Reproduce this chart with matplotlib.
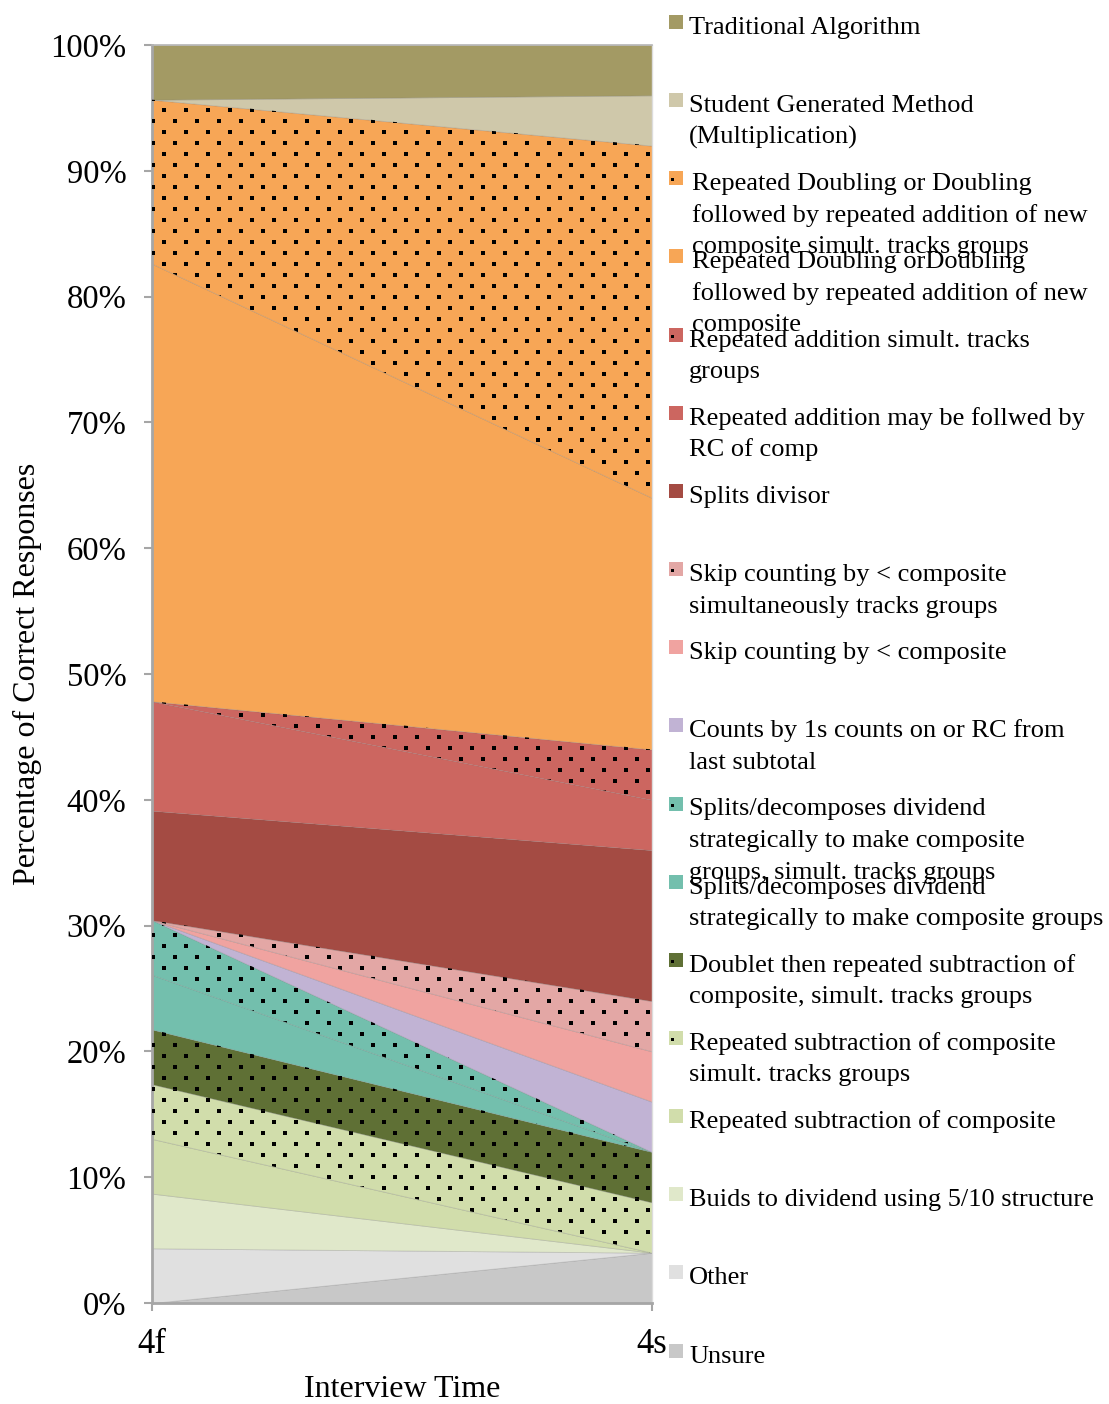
import matplotlib
matplotlib.use('Agg')
import matplotlib.pyplot as plt
import numpy as np
from matplotlib.patches import Rectangle

plt.rcParams['font.family'] = ['Liberation Serif', 'DejaVu Serif']

# ---------------- data (percent of correct responses) ----------------
times = ['4f', '4s']

# series listed bottom -> top of the stack
unsure          = [0.0, 4.0]
other           = [4.348, 0.0]
buids           = [4.348, 0.0]
rep_sub         = [4.348, 0.0]
rep_sub_simult  = [4.348, 4.0]
doublet_simult  = [4.348, 4.0]
splits_div      = [4.348, 0.0]
splits_div_sim  = [4.348, 0.0]
counts_1s       = [0.0, 4.0]
skip_count      = [0.0, 4.0]
skip_count_sim  = [0.0, 4.0]
splits_divisor  = [8.696, 12.0]
rep_add_rc      = [8.696, 4.0]
rep_add_simult  = [0.0, 4.0]
rep_dbl         = [34.783, 20.0]
rep_dbl_simult  = [13.043, 28.0]
student_gen     = [0.0, 4.0]
traditional     = [4.348, 4.0]

series = [unsure, other, buids, rep_sub, rep_sub_simult, doublet_simult,
          splits_div, splits_div_sim, counts_1s, skip_count, skip_count_sim,
          splits_divisor, rep_add_rc, rep_add_simult, rep_dbl, rep_dbl_simult,
          student_gen, traditional]

labels = [
    "Unsure",
    "Other",
    "Buids to dividend using 5/10 structure",
    "Repeated subtraction of composite",
    "Repeated subtraction of composite\nsimult. tracks groups",
    "Doublet then repeated subtraction of\ncomposite, simult. tracks groups",
    "Splits/decomposes dividend\nstrategically to make composite groups",
    "Splits/decomposes dividend\nstrategically to make composite\ngroups, simult. tracks groups",
    "Counts by 1s counts on or RC from\nlast subtotal",
    "Skip counting by < composite",
    "Skip counting by < composite\nsimultaneously tracks groups",
    "Splits divisor",
    "Repeated addition may be follwed by\nRC of comp",
    "Repeated addition simult. tracks\ngroups",
    "Repeated Doubling orDoubling\nfollowed by repeated addition of new\ncomposite",
    "Repeated Doubling or Doubling\nfollowed by repeated addition of new\ncomposite simult. tracks groups",
    "Student Generated Method\n(Multiplication)",
    "Traditional Algorithm",
]

colors = ['#C8C8C8', '#E0E0E0', '#E0E8CA', '#D1DDAB', '#D1DDAB', '#5F7035',
          '#73BFAD', '#73BFAD', '#C1B3D4', '#F0A3A0', '#E3A7A5', '#A44B43',
          '#CC6660', '#CC6660', '#F7A656', '#F7A656', '#CFC8AA', '#A39A64']

dotted = [False, False, False, False, True, True,
          False, True, False, False, True, False,
          False, True, False, True, False, False]

yticks = [0, 10, 20, 30, 40, 50, 60, 70, 80, 90, 100]
ytick_labels = ['0%', '10%', '20%', '30%', '40%', '50%', '60%', '70%', '80%', '90%', '100%']

# ---------------- figure ----------------
W, H = 1109, 1404
fig = plt.figure(figsize=(W / 100, H / 100), dpi=100)
AX_L, AX_R, AX_T, AX_B = 152, 652, 45, 1303
ax = fig.add_axes([AX_L / W, 1 - AX_B / H, (AX_R - AX_L) / W, (AX_B - AX_T) / H])

x = np.arange(len(times))
polys = ax.stackplot(x, *series, colors=colors, linewidth=0.6,
                     edgecolor=(0.45, 0.45, 0.45, 0.25))

# dotted texture: staggered grid of small squares (pixel pattern)
pts_x, pts_y = [], []
for j in range(0, 125):
    ypx = 0.3 + 11 * j
    for k in range(-1, 48):
        xpx = 153.3 + 11 * k
        if (k + j) % 2 == 1:
            pts_x.append((xpx - AX_L) / (AX_R - AX_L))
            pts_y.append((AX_B - ypx) / (AX_B - AX_T))
pts_x = np.array(pts_x)
pts_y = np.array(pts_y)

for poly, d in zip(polys, dotted):
    if d:
        sc = ax.scatter(pts_x, pts_y, transform=ax.transAxes, marker='s', s=5.5,
                        c='black', linewidths=0, zorder=3)
        sc.set_clip_path(poly.get_paths()[0], poly.get_transform())

ax.set_xlim(0, 1)
ax.set_ylim(0, 100)

ax.set_yticks(yticks)
ax.set_yticklabels(ytick_labels)
ax.set_xticks(x)
ax.set_xticklabels(times)
ax.tick_params(axis='y', direction='out', length=6, width=1.5, color='#a6a6a6',
               labelsize=23.5, pad=12.5)
ax.tick_params(axis='x', direction='out', length=6, width=1.5, color='#a6a6a6',
               labelsize=25, pad=12)

for side in ['left', 'bottom']:
    ax.spines[side].set_color('#a6a6a6')
    ax.spines[side].set_linewidth(2)
ax.spines['top'].set_color('#b5b5b5')
ax.spines['top'].set_linewidth(1.2)
ax.spines['right'].set_color('#dcdcdc')
ax.spines['right'].set_linewidth(1.0)

ax.set_xlabel('Interview Time', fontsize=23)
ax.xaxis.set_label_coords(0.5, (AX_B - 1397) / (AX_B - AX_T))
ax.xaxis.label.set_verticalalignment('baseline')
ax.set_ylabel('Percentage of Correct Responses', fontsize=23)
ax.yaxis.set_label_coords((27 - AX_L) / (AX_R - AX_L), 0.5)
ax.yaxis.label.set_verticalalignment('center')
ax.yaxis.label.set_horizontalalignment('center')

# ---------------- legend (manual, top entry = top of stack) ----------------
step = 78.15
line_h = 31.5
n = len(labels)
for i in range(n):
    idx = n - 1 - i
    y_top = 15 + step * i
    fig.patches.append(Rectangle((669 / W, 1 - (y_top + 14) / H), 14 / W, 14 / H,
                                 transform=fig.transFigure, facecolor=colors[idx],
                                 edgecolor='none'))
    if dotted[idx]:
        fig.patches.append(Rectangle((671 / W, 1 - (y_top + 10) / H), 3 / W, 3 / H,
                                     transform=fig.transFigure, facecolor='black',
                                     edgecolor='none'))
    tx = 692 if idx in (14, 15) else 689
    for li, line in enumerate(labels[idx].split('\n')):
        fig.text(tx / W, 1 - (y_top + 19 + li * line_h) / H, line, fontsize=19,
                 ha='left', va='baseline', color='black')

fig.savefig('out.png', dpi=100)
